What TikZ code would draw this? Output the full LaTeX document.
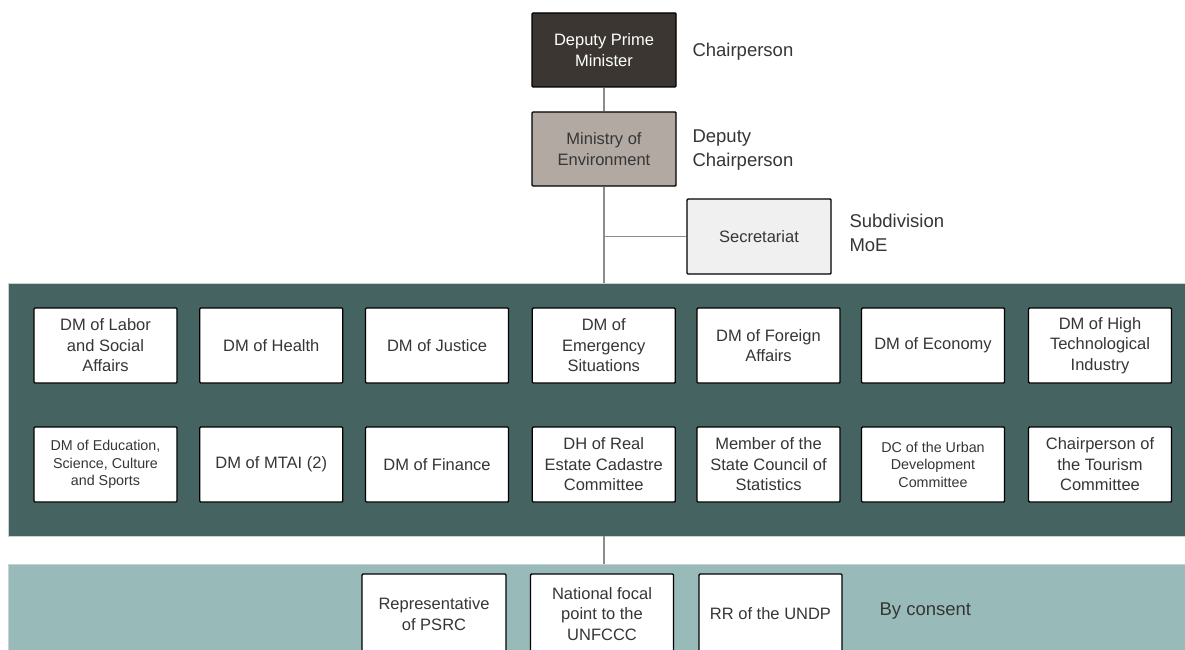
\documentclass[tikz,border=0pt]{standalone}
\usepackage{fontspec}
\setmainfont{Liberation Sans}
\definecolor{panelDark}{HTML}{446361}
\definecolor{panelLight}{HTML}{98BBBA}
\definecolor{chairFill}{HTML}{3B3631}
\definecolor{moeFill}{HTML}{B2A9A3}
\definecolor{secFill}{HTML}{F0F0F0}
\definecolor{textgray}{HTML}{363636}
\definecolor{linegray}{HTML}{8C8C8C}
\definecolor{edgegray}{HTML}{C8D2D1}
\begin{document}
\begin{tikzpicture}[x=1pt,y=-1pt,
  box/.style={draw=black, line width=1.4pt, fill=white, minimum width=143pt,
    minimum height=75pt, align=center, inner sep=2pt, rounded corners=1pt,
    font=\fontsize{16.5}{20.5}\selectfont, text=textgray},
  smalltext/.style={font=\fontsize{14.3}{17.5}\selectfont},
  side/.style={anchor=west, align=left, font=\fontsize{18.5}{24}\selectfont, text=textgray},
  link/.style={draw=linegray, line width=1.6pt}]
\useasboundingbox (0,0) rectangle (1185,650);
\clip (0,0) rectangle (1185,650);

% background bands
\fill[white] (0,0) rectangle (1185,650);
\filldraw[fill=panelDark, draw=edgegray, line width=0.6pt] (8,283) rectangle (1190,536);
\filldraw[fill=panelLight, draw=edgegray, line width=0.6pt] (8,564) rectangle (1190,660);

% leadership
\node[box, fill=chairFill, text=white, minimum width=144pt, minimum height=74pt] (dpm) at (604,50) {Deputy Prime\\Minister};
\node[box, fill=moeFill, minimum width=144pt, minimum height=74pt] (moe) at (604,149) {Ministry of\\Environment};
\node[box, fill=secFill, minimum width=144pt] (sec) at (759,236.5) {Secretariat};

\node[side] (lchair) at (689,52) {Chairperson};
\node[side] (ldeputy) at (689,150) {Deputy\\Chairperson};
\node[side] (lsub) at (846,233) {Subdivision\\MoE};

% connectors
\coordinate (ptop) at (604,283);
\coordinate (pbot) at (604,536);
\coordinate (ltop) at (604,564);
\draw[link] (dpm.south) -- (moe.north);
\draw[link] (moe.south) -- (ptop);
\draw[link] (sec.west) -- (sec.west -| moe.south);
\draw[link] (pbot) -- (ltop);

% deputy ministers, first row
\node[box] (r1a) at (105.5,345.5) {DM of Labor\\and Social\\Affairs};
\node[box] (r1b) at (271.25,345.5) {DM of Health};
\node[box] (r1c) at (437,345.5) {DM of Justice};
\node[box] (r1d) at (603.75,345.5) {DM of\\Emergency\\Situations};
\node[box] (r1e) at (768.5,345.5) {DM of Foreign\\Affairs};
\node[box] (r1f) at (933,345.5) {DM of Economy};
\node[box] (r1g) at (1100,345.5) {DM of High\\Technological\\Industry};

% deputy ministers, second row
\node[box, smalltext] (r2a) at (105.5,464.5) {DM of Education,\\Science, Culture\\and Sports};
\node[box] (r2b) at (271.25,464.5) {DM of MTAI (2)};
\node[box] (r2c) at (437,464.5) {DM of Finance};
\node[box] (r2d) at (603.75,464.5) {DH of Real\\Estate Cadastre\\Committee};
\node[box] (r2e) at (768.5,464.5) {Member of the\\State Council of\\Statistics};
\node[box, smalltext] (r2f) at (933,464.5) {DC of the Urban\\Development\\Committee};
\node[box] (r2g) at (1100,464.5) {Chairperson of\\the Tourism\\Committee};

% members by consent
\node[box, minimum width=144pt, minimum height=80pt] (psrc) at (434,614) {Representative\\of PSRC};
\node[box, minimum width=143pt, minimum height=80pt] (unfccc) at (602,614) {National focal\\point to the\\UNFCCC};
\node[box, minimum width=143pt, minimum height=80pt] (undp) at (770.5,614) {RR of the UNDP};
\node[side] (lconsent) at (876,611) {By consent};
\end{tikzpicture}
\end{document}
